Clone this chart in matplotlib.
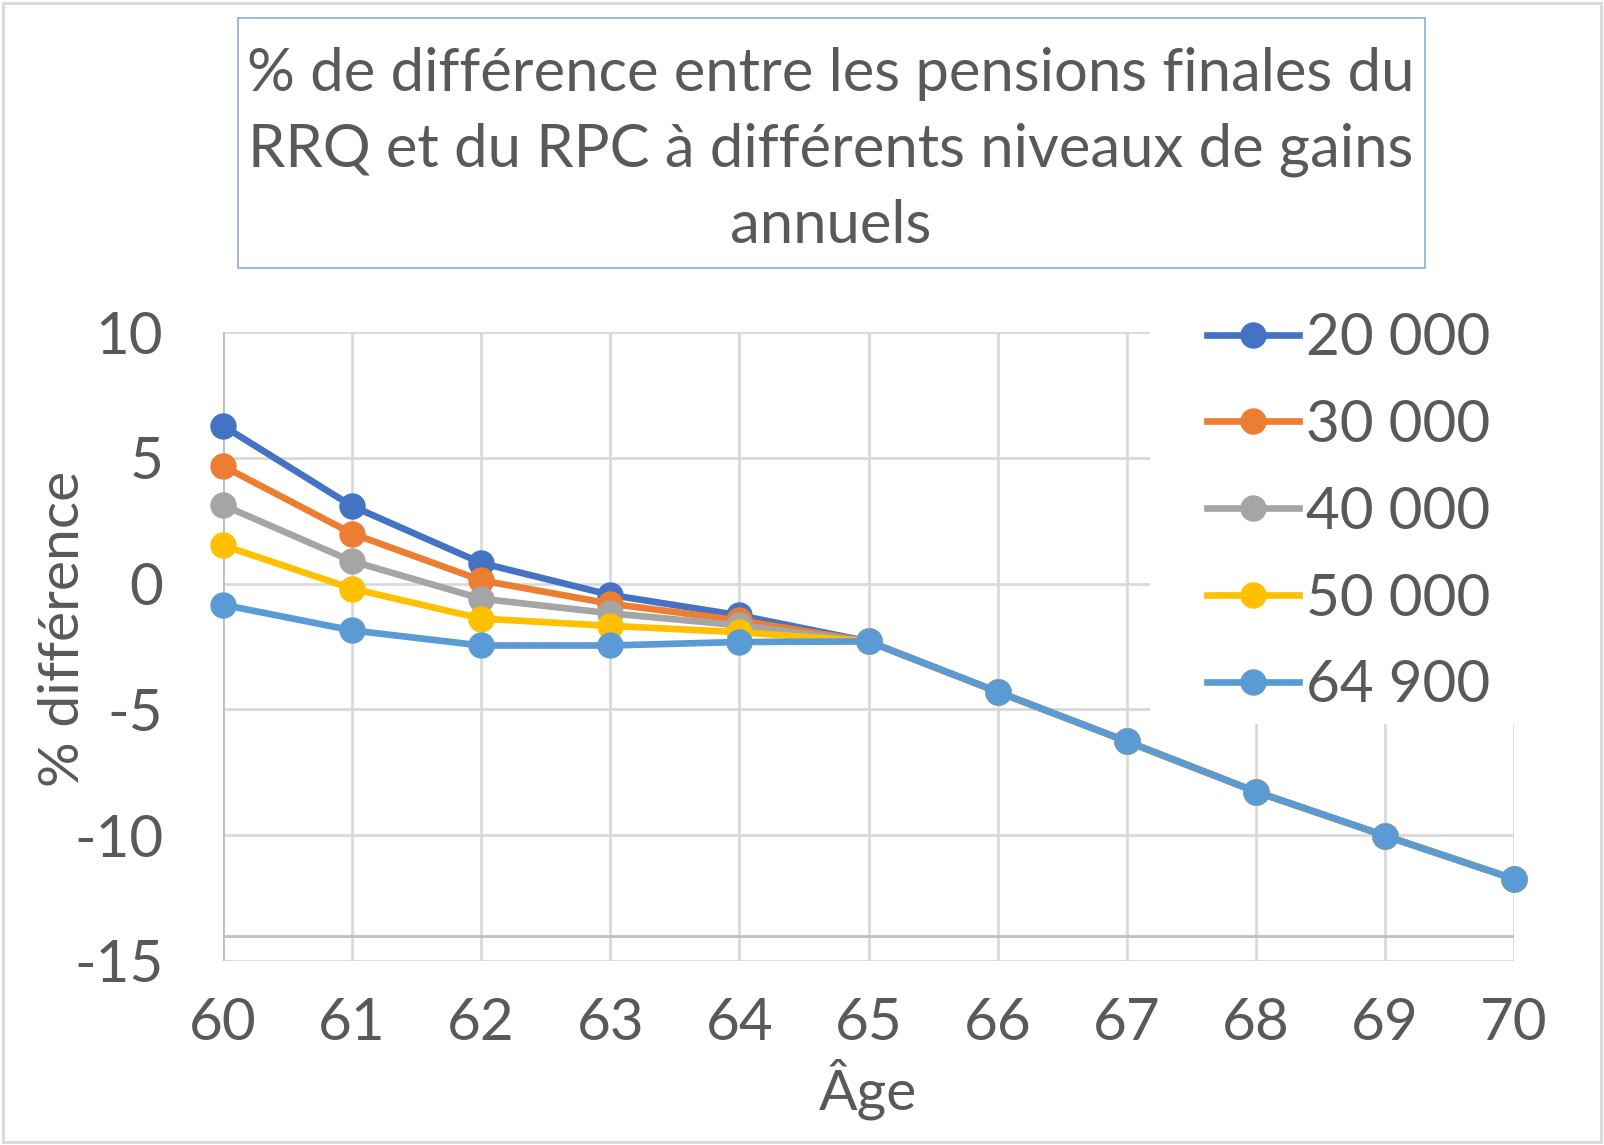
import matplotlib
matplotlib.use("Agg")
import matplotlib.pyplot as plt
from matplotlib.patches import Rectangle

plt.rcParams['font.family'] = ['Lato', 'DejaVu Sans']
plt.rcParams['axes.unicode_minus'] = False

ages = [60, 61, 62, 63, 64, 65, 66, 67, 68, 69, 70]
tail = [-2.3, -4.3, -6.27, -8.27, -10.02, -11.74]
g20000 = [6.27, 3.08, 0.82, -0.45, -1.26] + tail
g30000 = [4.67, 1.99, 0.13, -0.8, -1.46] + tail
g40000 = [3.12, 0.89, -0.6, -1.18, -1.66] + tail
g50000 = [1.52, -0.2, -1.39, -1.68, -1.93] + tail
g64900 = [-0.84, -1.86, -2.46, -2.46, -2.32] + tail

labels = ["20 000", "30 000", "40 000", "50 000", "64 900"]
series = [g20000, g30000, g40000, g50000, g64900]
colors = ["#4472C4", "#ED7D31", "#A5A5A5", "#FFC000", "#5B9BD5"]
yticks = [-15, -10, -5, 0, 5, 10]

txt = "#595959"
W, H = 1604, 1145
fig = plt.figure(figsize=(W / 100, H / 100), dpi=100)

# outer chart border
fig.patches.append(Rectangle((3 / W, 3 / H), 1 - 6 / W, 1 - 6 / H, transform=fig.transFigure,
                             fill=False, edgecolor="#d9d9d9", linewidth=2))

# title box
fig.patches.append(Rectangle((238 / W, 1 - 268 / H), (1425 - 238) / W, 250 / H,
                             transform=fig.transFigure, fill=False, edgecolor="#8faadc", linewidth=1.2))
fig.text(831 / W, 1 - 150 / H,
         "% de différence entre les pensions finales du\nRRQ et du RPC à différents niveaux de gains\nannuels",
         ha="center", va="center", fontsize=43, color=txt, linespacing=1.5)

ax = fig.add_axes([223 / W, 184 / H, (1514 - 223) / W, (961 - 332) / H])
for vals, lab, c in zip(series, labels, colors):
    ax.plot(ages, vals, color=c, lw=4.8, marker="o", markersize=18, label=lab,
            clip_on=False, zorder=3)

ax.set_xlim(60, 70)
ax.set_ylim(-15, 10)
ax.set_xticks(ages)
ax.set_yticks(yticks)
ax.grid(True, color="#d9d9d9", lw=2)
ax.set_axisbelow(True)
for s in ax.spines.values():
    s.set_visible(False)
ax.axhline(-14, color="#bfbfbf", lw=2, zorder=1)
ax.axvline(60, color="#bfbfbf", lw=2, zorder=1)
ax.tick_params(length=0, labelsize=42, labelcolor=txt)
ax.tick_params(axis="y", pad=43)
ax.tick_params(axis="x", pad=26)

ax.set_xlabel("Âge", fontsize=41, color=txt, labelpad=6)
ax.set_ylabel("% différence", fontsize=41, color=txt)
ax.yaxis.set_label_coords((89 - 223) / (1514 - 223), 0.528)

# white legend area hiding the gridlines behind it
ax.add_patch(Rectangle((1150 / W, 1 - 724 / H), (1530 - 1150) / W, (724 - 300) / H,
                       transform=fig.transFigure, facecolor="white", edgecolor="none",
                       clip_on=False, zorder=2))

leg = ax.legend(loc="upper left", bbox_to_anchor=(1207 / W, 1 - 312 / H),
                bbox_transform=fig.transFigure, fontsize=42, frameon=False,
                borderaxespad=0, borderpad=0,
                handlelength=1.58, handletextpad=0.12, labelspacing=0.58,
                labelcolor=txt)
leg.set_zorder(5)

fig.savefig("out.png", dpi=100)
